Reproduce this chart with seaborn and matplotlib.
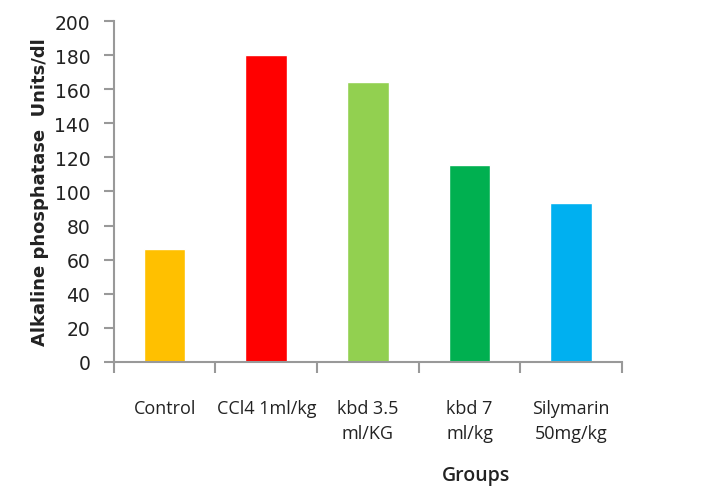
import matplotlib
matplotlib.use("Agg")
import matplotlib.pyplot as plt
import seaborn as sns
import pandas as pd
from matplotlib.ticker import FixedLocator

groups = ["Control", "CCl4 1ml/kg", "kbd 3.5\nml/KG", "kbd 7\nml/kg", "Silymarin\n50mg/kg"]
alp_values = [66, 180, 164, 115.5, 93]
bar_colors = ["#FFC000", "#FF0000", "#92D050", "#00B050", "#00B0F0"]
y_ticks = [0, 20, 40, 60, 80, 100, 120, 140, 160, 180, 200]

df = pd.DataFrame({"group": groups, "value": alp_values})

sns.set_style("white")
plt.rcParams["font.family"] = ["DejaVu Sans"]

fig = plt.figure(figsize=(7.2, 4.89), dpi=100)
ax = fig.add_axes([0.158, 0.258, 0.706, 0.697])

sns.barplot(data=df, x="group", y="value", hue="group", palette=bar_colors,
            legend=False, width=0.41, ax=ax, saturation=1)

ax.set_ylim(0, 200)
ax.set_xlim(-0.5, 4.5)
ax.set_yticks(y_ticks)
ax.set_yticklabels([str(v) for v in y_ticks], fontsize=13.5, color="#222222")
ax.tick_params(axis="y", length=7, width=1.5, color="#999999", pad=10, direction="out", left=True)

ax.set_xticks(range(len(groups)))
ax.set_xticklabels(groups, fontsize=13, family="Open Sans", color="#222222", linespacing=1.45)
ax.tick_params(axis="x", which="major", length=0, pad=27, bottom=True)
ax.xaxis.set_minor_locator(FixedLocator([-0.5, 0.5, 1.5, 2.5, 3.5, 4.5]))
ax.tick_params(axis="x", which="minor", length=8, width=1.5, color="#999999", direction="out", bottom=True)

for side in ["top", "right"]:
    ax.spines[side].set_visible(False)
for side in ["left", "bottom"]:
    ax.spines[side].set_color("#999999")
    ax.spines[side].set_linewidth(1.5)

ax.set_xlabel("")
ax.set_ylabel("Alkaline phosphatase  Units/dl", fontsize=13, fontweight="bold",
              color="#222222")
ax.yaxis.set_label_coords(-0.128, 0.5)

fig.text(476 / 720, 1 - 486 / 489, "Groups", ha="center", va="bottom",
         fontsize=14, fontweight="semibold", family="Open Sans", color="#222222")

fig.savefig("out.png", dpi=100)
